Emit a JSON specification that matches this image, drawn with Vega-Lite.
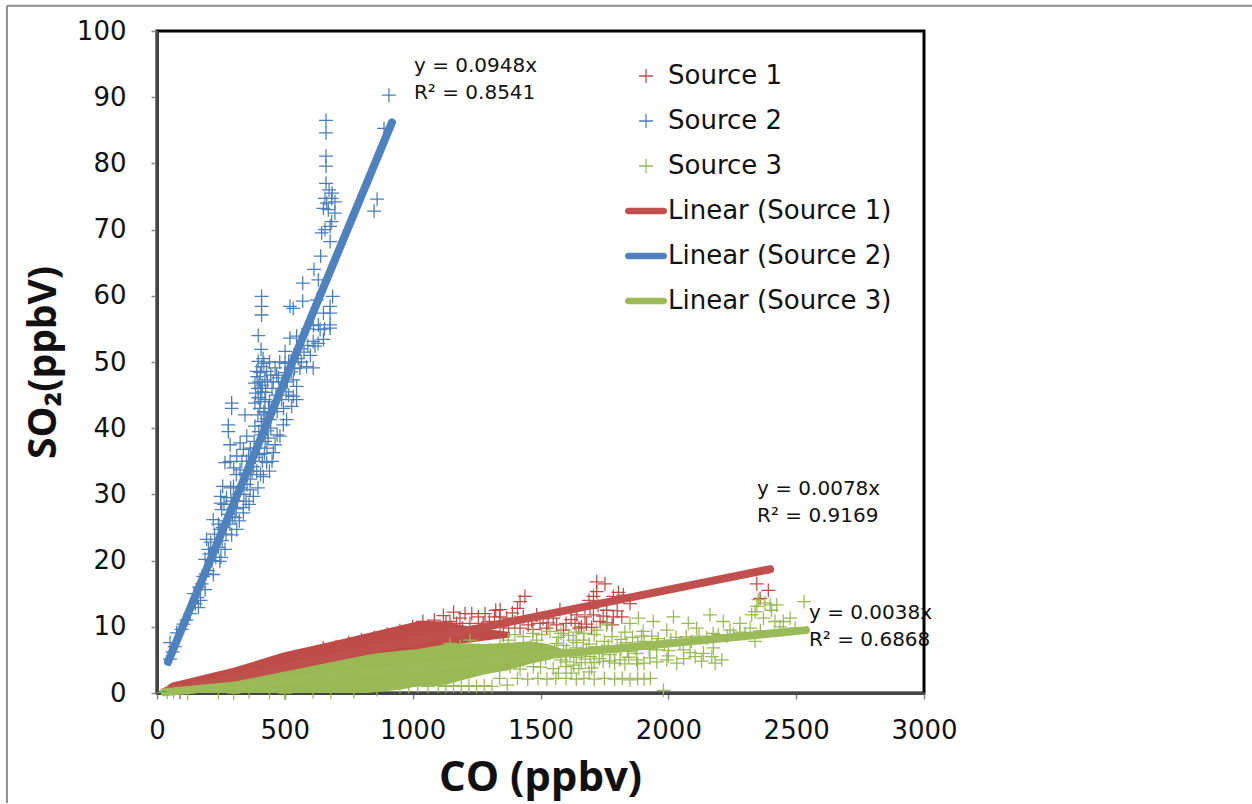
{
"$schema":"https://vega.github.io/schema/vega-lite/v6.json",
"autosize":{"type":"none"},
"padding":{"left":157,"top":31,"right":328,"bottom":111},
"width":767,"height":662,
"background":"white",
"config":{"view":{"stroke":"#000000","strokeWidth":3},"font":"DejaVu Sans"},
"datasets":{
"pts":[
{"s":"Source 2","co":907,"so2":90.3},{"s":"Source 2","co":888,"so2":85.3},{"s":"Source 2","co":661,"so2":86.5},{"s":"Source 2","co":661,"so2":84.6},{"s":"Source 2","co":661,"so2":81.1},{"s":"Source 2","co":661,"so2":79.6},{"s":"Source 2","co":661,"so2":77},{"s":"Source 2","co":673,"so2":76},{"s":"Source 2","co":685,"so2":75.5},{"s":"Source 2","co":861,"so2":74.6},{"s":"Source 2","co":849,"so2":72.8},{"s":"Source 2","co":683,"so2":74.7},{"s":"Source 2","co":696,"so2":74.2},{"s":"Source 2","co":657,"so2":74.7},{"s":"Source 2","co":664,"so2":74},{"s":"Source 2","co":651,"so2":73.2},{"s":"Source 2","co":670,"so2":73},{"s":"Source 2","co":696,"so2":72.5},{"s":"Source 2","co":683,"so2":71.2},{"s":"Source 2","co":677,"so2":70.5},{"s":"Source 2","co":644,"so2":69.5},{"s":"Source 2","co":657,"so2":70},{"s":"Source 2","co":677,"so2":68.2},{"s":"Source 2","co":640,"so2":66},{"s":"Source 2","co":614,"so2":64},{"s":"Source 2","co":631,"so2":62.4},{"s":"Source 2","co":570,"so2":61.9},{"s":"Source 2","co":570,"so2":59.2},{"s":"Source 2","co":520,"so2":58.4},{"s":"Source 2","co":533,"so2":58.1},{"s":"Source 2","co":409,"so2":59.9},{"s":"Source 2","co":409,"so2":58.4},{"s":"Source 2","co":409,"so2":57.1},{"s":"Source 2","co":687,"so2":59.9},{"s":"Source 2","co":677,"so2":58.4},{"s":"Source 2","co":677,"so2":57.4},{"s":"Source 2","co":651,"so2":57.4},{"s":"Source 2","co":625,"so2":59.4},{"s":"Source 2","co":677,"so2":55.6},{"s":"Source 2","co":631,"so2":55.6},
{"s":"Source 2","co":396,"so2":54},{"s":"Source 2","co":611,"so2":53.1},{"s":"Source 2","co":677,"so2":55.1},{"s":"Source 2","co":638,"so2":54.9},{"s":"Source 2","co":520,"so2":53.6},{"s":"Source 2","co":546,"so2":53.9},{"s":"Source 2","co":651,"so2":53.4},{"s":"Source 2","co":618,"so2":52.4},{"s":"Source 2","co":611,"so2":49.1},{"s":"Source 2","co":585,"so2":49.3},{"s":"Source 2","co":501,"so2":51.6},{"s":"Source 2","co":407,"so2":51.9},{"s":"Source 2","co":396,"so2":50.1},{"s":"Source 2","co":390,"so2":48.6},{"s":"Source 2","co":409,"so2":49.3},{"s":"Source 2","co":429,"so2":48.6},{"s":"Source 2","co":383,"so2":46.8},{"s":"Source 2","co":422,"so2":47.3},{"s":"Source 2","co":462,"so2":49.1},{"s":"Source 2","co":475,"so2":47.6},{"s":"Source 2","co":501,"so2":49.8},{"s":"Source 2","co":533,"so2":47.3},{"s":"Source 2","co":546,"so2":46.3},{"s":"Source 2","co":559,"so2":49.1},{"s":"Source 2","co":533,"so2":44.8},{"s":"Source 2","co":527,"so2":43.3},{"s":"Source 2","co":546,"so2":44.3},{"s":"Source 2","co":488,"so2":44.3},{"s":"Source 2","co":422,"so2":44.3},{"s":"Source 2","co":396,"so2":44.6},{"s":"Source 2","co":383,"so2":43.8},{"s":"Source 2","co":292,"so2":43.8},{"s":"Source 2","co":292,"so2":43},{"s":"Source 2","co":344,"so2":42},{"s":"Source 2","co":279,"so2":40.5},{"s":"Source 2","co":279,"so2":39.5},{"s":"Source 2","co":286,"so2":37.5},{"s":"Source 2","co":383,"so2":40.3},{"s":"Source 2","co":422,"so2":42.3},{"s":"Source 2","co":442,"so2":41.3},{"s":"Source 2","co":494,"so2":40.5},{"s":"Source 2","co":507,"so2":41.3},{"s":"Source 2","co":481,"so2":38.8},{"s":"Source 2","co":462,"so2":37.5},{"s":"Source 2","co":325,"so2":37.8},{"s":"Source 2","co":351,"so2":38.8},{"s":"Source 2","co":312,"so2":35.8},{"s":"Source 2","co":286,"so2":35},{"s":"Source 2","co":266,"so2":34.8},{"s":"Source 2","co":338,"so2":36.8},{"s":"Source 2","co":455,"so2":36.3},{"s":"Source 2","co":429,"so2":34.8},{"s":"Source 2","co":416,"so2":32.7},{"s":"Source 2","co":325,"so2":33.7},{"s":"Source 2","co":299,"so2":31.2},{"s":"Source 2","co":257,"so2":31.2},{"s":"Source 2","co":249,"so2":29.7},{"s":"Source 2","co":249,"so2":28.7},{"s":"Source 2","co":253,"so2":27.7},{"s":"Source 2","co":377,"so2":29.7},{"s":"Source 2","co":364,"so2":30.7},{"s":"Source 2","co":338,"so2":28},{"s":"Source 2","co":338,"so2":27.2},{"s":"Source 2","co":220,"so2":26.2},{"s":"Source 2","co":246,"so2":24.7},{"s":"Source 2","co":312,"so2":24.7},{"s":"Source 2","co":292,"so2":23.9},{"s":"Source 2","co":194,"so2":23.2},{"s":"Source 2","co":201,"so2":21.7},{"s":"Source 2","co":266,"so2":21.7},{"s":"Source 2","co":246,"so2":19.9},{"s":"Source 2","co":188,"so2":20.2},{"s":"Source 2","co":220,"so2":17.9},{"s":"Source 2","co":181,"so2":17.6},{"s":"Source 2","co":188,"so2":15.6},{"s":"Source 2","co":162,"so2":12.9},{"s":"Source 2","co":51,"so2":7.6},{"s":"Source 2","co":77,"so2":9.1},{"s":"Source 2","co":96,"so2":9.6},{"s":"Source 2","co":51,"so2":5.1},{"s":"Source 2","co":103,"so2":10.4},
{"s":"Source 2","co":430,"so2":37},{"s":"Source 2","co":400,"so2":36},{"s":"Source 2","co":410,"so2":39},{"s":"Source 2","co":440,"so2":44},{"s":"Source 2","co":410,"so2":45.5},{"s":"Source 2","co":395,"so2":42},{"s":"Source 2","co":370,"so2":35},{"s":"Source 2","co":355,"so2":33},{"s":"Source 2","co":390,"so2":33.5},{"s":"Source 2","co":470,"so2":42.5},{"s":"Source 2","co":465,"so2":45},{"s":"Source 2","co":505,"so2":45.5},{"s":"Source 2","co":515,"so2":50},{"s":"Source 2","co":560,"so2":52},{"s":"Source 2","co":590,"so2":55},{"s":"Source 2","co":540,"so2":51},{"s":"Source 2","co":600,"so2":51},{"s":"Source 2","co":380,"so2":38},{"s":"Source 2","co":365,"so2":37},{"s":"Source 2","co":350,"so2":35},{"s":"Source 2","co":330,"so2":31},{"s":"Source 2","co":315,"so2":29},{"s":"Source 2","co":285,"so2":25.5},{"s":"Source 2","co":270,"so2":24},{"s":"Source 2","co":240,"so2":22},{"s":"Source 2","co":215,"so2":20},{"s":"Source 2","co":170,"so2":14},{"s":"Source 2","co":150,"so2":13.5},{"s":"Source 2","co":415,"so2":50.5},{"s":"Source 2","co":440,"so2":50},{"s":"Source 2","co":400,"so2":47},
{"s":"Source 2","co":405,"so2":46},{"s":"Source 2","co":418,"so2":49.8},{"s":"Source 2","co":392,"so2":47.8},{"s":"Source 2","co":386,"so2":45.3},{"s":"Source 2","co":405,"so2":44},{"s":"Source 2","co":418,"so2":42.5},{"s":"Source 2","co":408,"so2":41},{"s":"Source 2","co":398,"so2":39.5},{"s":"Source 2","co":385,"so2":37},{"s":"Source 2","co":372,"so2":33.5},{"s":"Source 2","co":358,"so2":35.8},{"s":"Source 2","co":345,"so2":33.2},{"s":"Source 2","co":332,"so2":35},{"s":"Source 2","co":310,"so2":33},{"s":"Source 2","co":300,"so2":34},{"s":"Source 2","co":288,"so2":31},{"s":"Source 2","co":272,"so2":29.5},{"s":"Source 2","co":262,"so2":28.5},{"s":"Source 2","co":305,"so2":26.5},{"s":"Source 2","co":322,"so2":26},{"s":"Source 2","co":348,"so2":29},{"s":"Source 2","co":360,"so2":28.5},{"s":"Source 2","co":395,"so2":31},{"s":"Source 2","co":405,"so2":33},{"s":"Source 2","co":440,"so2":33.5},{"s":"Source 2","co":450,"so2":35},{"s":"Source 2","co":435,"so2":38.5},{"s":"Source 2","co":445,"so2":40},{"s":"Source 2","co":470,"so2":39},{"s":"Source 2","co":495,"so2":43},{"s":"Source 2","co":455,"so2":47},{"s":"Source 2","co":445,"so2":48},{"s":"Source 2","co":480,"so2":50},{"s":"Source 2","co":525,"so2":48.5},{"s":"Source 2","co":510,"so2":47},{"s":"Source 2","co":565,"so2":50},{"s":"Source 2","co":575,"so2":51.5},{"s":"Source 2","co":590,"so2":52.5},{"s":"Source 2","co":630,"so2":52.8},{"s":"Source 2","co":655,"so2":55},{"s":"Source 2","co":612,"so2":55.5},{"s":"Source 2","co":240,"so2":25.5},{"s":"Source 2","co":225,"so2":24},{"s":"Source 2","co":210,"so2":22.8},{"s":"Source 2","co":255,"so2":23},{"s":"Source 2","co":230,"so2":20.5},{"s":"Source 2","co":200,"so2":18.5},{"s":"Source 2","co":175,"so2":16.5},{"s":"Source 2","co":130,"so2":12},{"s":"Source 2","co":115,"so2":11},{"s":"Source 2","co":145,"so2":15},{"s":"Source 2","co":70,"so2":7},{"s":"Source 2","co":60,"so2":6.2},
{"s":"Source 2","co":378,"so2":34.2},{"s":"Source 2","co":385,"so2":35.6},{"s":"Source 2","co":412,"so2":35},{"s":"Source 2","co":420,"so2":36.2},{"s":"Source 2","co":423,"so2":38},{"s":"Source 2","co":432,"so2":39.6},{"s":"Source 2","co":415,"so2":40.4},{"s":"Source 2","co":428,"so2":41.4},{"s":"Source 2","co":436,"so2":43},{"s":"Source 2","co":402,"so2":43},{"s":"Source 2","co":412,"so2":46.5},{"s":"Source 2","co":425,"so2":45.4},{"s":"Source 2","co":395,"so2":46},{"s":"Source 2","co":404,"so2":48.4},{"s":"Source 2","co":432,"so2":47},{"s":"Source 2","co":450,"so2":46},{"s":"Source 2","co":468,"so2":48},{"s":"Source 2","co":490,"so2":47},{"s":"Source 2","co":500,"so2":48.4},{"s":"Source 2","co":515,"so2":45},{"s":"Source 2","co":538,"so2":49},{"s":"Source 2","co":552,"so2":50.5},{"s":"Source 2","co":340,"so2":30},{"s":"Source 2","co":352,"so2":31.5},{"s":"Source 2","co":365,"so2":32.3},{"s":"Source 2","co":320,"so2":30},{"s":"Source 2","co":300,"so2":28},{"s":"Source 2","co":290,"so2":29},{"s":"Source 2","co":278,"so2":27},{"s":"Source 2","co":268,"so2":26},{"s":"Source 2","co":258,"so2":25},{"s":"Source 2","co":295,"so2":26.6},{"s":"Source 2","co":310,"so2":27.8},{"s":"Source 2","co":250,"so2":20.5},{"s":"Source 2","co":205,"so2":21},{"s":"Source 2","co":190,"so2":18},{"s":"Source 2","co":165,"so2":16},{"s":"Source 2","co":158,"so2":14.4},
{"s":"Source 1","co":2346,"so2":16.5},{"s":"Source 1","co":2391,"so2":15.5},{"s":"Source 1","co":2359,"so2":14.3},{"s":"Source 1","co":1720,"so2":16.8},{"s":"Source 1","co":1752,"so2":16.5},{"s":"Source 1","co":1720,"so2":15.3},{"s":"Source 1","co":1707,"so2":14.6},{"s":"Source 1","co":1805,"so2":15.2},{"s":"Source 1","co":1824,"so2":14.8},{"s":"Source 1","co":1785,"so2":14.6},{"s":"Source 1","co":1850,"so2":13.5},{"s":"Source 1","co":1439,"so2":14.6},{"s":"Source 1","co":1420,"so2":13.8},{"s":"Source 1","co":1342,"so2":12.6},{"s":"Source 1","co":1205,"so2":12},{"s":"Source 1","co":1231,"so2":12},{"s":"Source 1","co":1283,"so2":12},{"s":"Source 1","co":1185,"so2":11.3},{"s":"Source 1","co":1257,"so2":11.5},{"s":"Source 1","co":1146,"so2":10.8},{"s":"Source 1","co":1172,"so2":10.5},{"s":"Source 1","co":1224,"so2":10.5},{"s":"Source 1","co":1276,"so2":10.5},{"s":"Source 1","co":1368,"so2":11.3},{"s":"Source 1","co":1433,"so2":11.5},{"s":"Source 1","co":1485,"so2":11.8},{"s":"Source 1","co":1576,"so2":12.6},{"s":"Source 1","co":1550,"so2":11.3},{"s":"Source 1","co":1498,"so2":10.5},{"s":"Source 1","co":1563,"so2":10.3},{"s":"Source 1","co":1635,"so2":10.5},{"s":"Source 1","co":1694,"so2":12.8},{"s":"Source 1","co":1707,"so2":11.8},{"s":"Source 1","co":1759,"so2":12.5},{"s":"Source 1","co":1785,"so2":11.5},{"s":"Source 1","co":1818,"so2":11.5},{"s":"Source 1","co":1674,"so2":11.5},{"s":"Source 1","co":1642,"so2":11.8},{"s":"Source 1","co":1733,"so2":10.8},{"s":"Source 1","co":1420,"so2":9.8},{"s":"Source 1","co":1355,"so2":8.8},{"s":"Source 1","co":1342,"so2":10},{"s":"Source 1","co":1302,"so2":9.3},{"s":"Source 1","co":1452,"so2":10.3},{"s":"Source 1","co":1524,"so2":9.8},{"s":"Source 1","co":1130,"so2":10.7},{"s":"Source 1","co":1100,"so2":9.4},{"s":"Source 1","co":1060,"so2":10.1},{"s":"Source 1","co":1000,"so2":10},{"s":"Source 1","co":950,"so2":9.4},{"s":"Source 1","co":900,"so2":8.9},{"s":"Source 1","co":850,"so2":8.4},{"s":"Source 1","co":800,"so2":8},{"s":"Source 1","co":750,"so2":7.6},{"s":"Source 1","co":700,"so2":7},{"s":"Source 1","co":650,"so2":6.8},{"s":"Source 1","co":1390,"so2":12.1},{"s":"Source 1","co":1160,"so2":12.2},{"s":"Source 1","co":1250,"so2":9},{"s":"Source 1","co":1320,"so2":11.5},{"s":"Source 1","co":1600,"so2":10.5},{"s":"Source 1","co":1660,"so2":10},{"s":"Source 1","co":1780,"so2":10.3},{"s":"Source 1","co":90,"so2":0.1},
{"s":"Source 1","co":1195,"so2":9.8},{"s":"Source 1","co":1235,"so2":9.2},{"s":"Source 1","co":1270,"so2":9.8},{"s":"Source 1","co":1300,"so2":10.8},{"s":"Source 1","co":1340,"so2":11.5},{"s":"Source 1","co":1375,"so2":9.8},{"s":"Source 1","co":1400,"so2":10.7},{"s":"Source 1","co":1465,"so2":10.9},{"s":"Source 1","co":1470,"so2":9.6},{"s":"Source 1","co":1510,"so2":11.2},{"s":"Source 1","co":1530,"so2":10.6},{"s":"Source 1","co":1590,"so2":9.5},{"s":"Source 1","co":1620,"so2":11.1},{"s":"Source 1","co":1650,"so2":9.8},{"s":"Source 1","co":1680,"so2":10.4},{"s":"Source 1","co":1700,"so2":9.9},{"s":"Source 1","co":1745,"so2":11.6},{"s":"Source 1","co":1760,"so2":10.6},{"s":"Source 1","co":1800,"so2":12.4},{"s":"Source 1","co":1690,"so2":14},{"s":"Source 1","co":1725,"so2":13.2},{"s":"Source 1","co":1410,"so2":12.8},{"s":"Source 1","co":1325,"so2":12.5},{"s":"Source 1","co":1120,"so2":11.7},{"s":"Source 1","co":1085,"so2":11},{"s":"Source 1","co":1040,"so2":10.8},
{"s":"Source 3","co":2531,"so2":13.8},{"s":"Source 3","co":2352,"so2":14.1},{"s":"Source 3","co":2378,"so2":13.6},{"s":"Source 3","co":2346,"so2":13.1},{"s":"Source 3","co":2398,"so2":13.3},{"s":"Source 3","co":2424,"so2":13.3},{"s":"Source 3","co":2339,"so2":12.3},{"s":"Source 3","co":2326,"so2":11.8},{"s":"Source 3","co":2372,"so2":11.3},{"s":"Source 3","co":2404,"so2":12.5},{"s":"Source 3","co":2450,"so2":10.8},{"s":"Source 3","co":2476,"so2":11.3},{"s":"Source 3","co":2417,"so2":10.8},{"s":"Source 3","co":2496,"so2":9.8},{"s":"Source 3","co":2437,"so2":10},{"s":"Source 3","co":2320,"so2":9.8},{"s":"Source 3","co":2280,"so2":10.5},{"s":"Source 3","co":2215,"so2":10.8},{"s":"Source 3","co":2163,"so2":11.8},{"s":"Source 3","co":2020,"so2":11.5},{"s":"Source 3","co":2078,"so2":10.5},{"s":"Source 3","co":1941,"so2":10.8},{"s":"Source 3","co":1883,"so2":11.3},{"s":"Source 3","co":1850,"so2":10.5},{"s":"Source 3","co":1759,"so2":10.3},{"s":"Source 3","co":1720,"so2":9.5},{"s":"Source 3","co":1994,"so2":9.5},{"s":"Source 3","co":1902,"so2":9.3},{"s":"Source 3","co":2111,"so2":9.8},{"s":"Source 3","co":2241,"so2":9.5},{"s":"Source 3","co":2339,"so2":7.8},{"s":"Source 3","co":2176,"so2":6.8},{"s":"Source 3","co":2170,"so2":5.5},{"s":"Source 3","co":2209,"so2":5},{"s":"Source 3","co":2183,"so2":4.5},{"s":"Source 3","co":2137,"so2":6},{"s":"Source 3","co":2105,"so2":5.5},{"s":"Source 3","co":2033,"so2":4.5},{"s":"Source 3","co":1994,"so2":5},{"s":"Source 3","co":2059,"so2":6.5},{"s":"Source 3","co":1954,"so2":6.5},{"s":"Source 3","co":1876,"so2":6},{"s":"Source 3","co":1772,"so2":5.8},{"s":"Source 3","co":1694,"so2":5.5},{"s":"Source 3","co":1811,"so2":5},{"s":"Source 3","co":1876,"so2":5},{"s":"Source 3","co":1928,"so2":5.3},{"s":"Source 3","co":1602,"so2":6.5},{"s":"Source 3","co":1537,"so2":6},{"s":"Source 3","co":1433,"so2":5},{"s":"Source 3","co":1381,"so2":4},{"s":"Source 3","co":1276,"so2":4},{"s":"Source 3","co":1472,"so2":4},{"s":"Source 3","co":1563,"so2":7.5},{"s":"Source 3","co":1628,"so2":8},{"s":"Source 3","co":1668,"so2":8},{"s":"Source 3","co":1720,"so2":7},{"s":"Source 3","co":1642,"so2":6.8},{"s":"Source 3","co":1485,"so2":8},{"s":"Source 3","co":1433,"so2":8.5},{"s":"Source 3","co":1374,"so2":8},{"s":"Source 3","co":1342,"so2":7.2},{"s":"Source 3","co":1302,"so2":6.5},{"s":"Source 3","co":1224,"so2":8},{"s":"Source 3","co":1185,"so2":7},{"s":"Source 3","co":1146,"so2":7.5},{"s":"Source 3","co":1537,"so2":9.3},{"s":"Source 3","co":1505,"so2":8.8},
{"s":"Source 3","co":1981,"so2":0.4},{"s":"Source 3","co":1930,"so2":2.2},{"s":"Source 3","co":1905,"so2":2.1},{"s":"Source 3","co":1880,"so2":2.2},{"s":"Source 3","co":1850,"so2":2},{"s":"Source 3","co":1820,"so2":2.2},{"s":"Source 3","co":1790,"so2":2.1},{"s":"Source 3","co":1750,"so2":2.2},{"s":"Source 3","co":1710,"so2":2.1},{"s":"Source 3","co":1670,"so2":2.2},{"s":"Source 3","co":1640,"so2":2.1},{"s":"Source 3","co":1600,"so2":2.2},{"s":"Source 3","co":1560,"so2":2.2},{"s":"Source 3","co":1525,"so2":2.1},{"s":"Source 3","co":1490,"so2":2.2},{"s":"Source 3","co":1450,"so2":2.1},{"s":"Source 3","co":1410,"so2":2.2},{"s":"Source 3","co":1370,"so2":1.2},{"s":"Source 3","co":1340,"so2":2.2},{"s":"Source 3","co":1310,"so2":1},{"s":"Source 3","co":1280,"so2":1.1},{"s":"Source 3","co":1250,"so2":1},{"s":"Source 3","co":1220,"so2":1.1},{"s":"Source 3","co":1190,"so2":1},{"s":"Source 3","co":1160,"so2":1.1},{"s":"Source 3","co":1130,"so2":1},{"s":"Source 3","co":1100,"so2":1.1},{"s":"Source 3","co":1060,"so2":1},{"s":"Source 3","co":1020,"so2":1.1},{"s":"Source 3","co":985,"so2":1},{"s":"Source 3","co":950,"so2":1},
{"s":"Source 3","co":1700,"so2":3.8},{"s":"Source 3","co":1650,"so2":3.7},{"s":"Source 3","co":1600,"so2":4},{"s":"Source 3","co":1550,"so2":3.7},{"s":"Source 3","co":1500,"so2":3.9},{"s":"Source 3","co":1420,"so2":3.6},{"s":"Source 3","co":1340,"so2":3.4},{"s":"Source 3","co":1580,"so2":5},{"s":"Source 3","co":1640,"so2":5.4},{"s":"Source 3","co":1745,"so2":4.8},{"s":"Source 3","co":1520,"so2":5.3},{"s":"Source 3","co":1480,"so2":6.5},{"s":"Source 3","co":1400,"so2":6.2},{"s":"Source 3","co":1710,"so2":8.8},{"s":"Source 3","co":1780,"so2":8.5},{"s":"Source 3","co":1830,"so2":9.2},{"s":"Source 3","co":1960,"so2":8.2},{"s":"Source 3","co":2030,"so2":8.4},{"s":"Source 3","co":1800,"so2":7},{"s":"Source 3","co":1880,"so2":7.3},
{"s":"Source 3","co":1555,"so2":6.4},{"s":"Source 3","co":1590,"so2":7.2},{"s":"Source 3","co":1615,"so2":5.8},{"s":"Source 3","co":1660,"so2":6.1},{"s":"Source 3","co":1690,"so2":7.4},{"s":"Source 3","co":1750,"so2":7.8},{"s":"Source 3","co":1740,"so2":6.4},{"s":"Source 3","co":1790,"so2":6.2},{"s":"Source 3","co":1835,"so2":7.6},{"s":"Source 3","co":1840,"so2":6.3},{"s":"Source 3","co":1860,"so2":8.4},{"s":"Source 3","co":1905,"so2":7.8},{"s":"Source 3","co":1925,"so2":6.6},{"s":"Source 3","co":1935,"so2":8.6},{"s":"Source 3","co":1985,"so2":7.4},{"s":"Source 3","co":2000,"so2":6.4},{"s":"Source 3","co":2045,"so2":7.5},{"s":"Source 3","co":2090,"so2":7.8},{"s":"Source 3","co":2150,"so2":8.3},{"s":"Source 3","co":2195,"so2":8.8},{"s":"Source 3","co":2255,"so2":8.9},{"s":"Source 3","co":2300,"so2":9},{"s":"Source 3","co":2360,"so2":9.4},{"s":"Source 3","co":2060,"so2":5.2},{"s":"Source 3","co":2130,"so2":4.8},{"s":"Source 3","co":1955,"so2":4.7},{"s":"Source 3","co":1905,"so2":4.5},{"s":"Source 3","co":1845,"so2":5.4},{"s":"Source 3","co":1790,"so2":4.5},{"s":"Source 3","co":1730,"so2":5.2},{"s":"Source 3","co":1660,"so2":4.6},{"s":"Source 3","co":1620,"so2":3},{"s":"Source 3","co":1570,"so2":3},{"s":"Source 3","co":1690,"so2":3.2},{"s":"Source 3","co":1580,"so2":9},{"s":"Source 3","co":1640,"so2":9.2},{"s":"Source 3","co":1470,"so2":9},{"s":"Source 3","co":1400,"so2":8.8},
{"s":"Source 3","co":1600,"so2":6.1},{"s":"Source 3","co":1640,"so2":7.6},{"s":"Source 3","co":1680,"so2":6.6},{"s":"Source 3","co":1710,"so2":6},{"s":"Source 3","co":1765,"so2":7.1},{"s":"Source 3","co":1815,"so2":6.6},{"s":"Source 3","co":1815,"so2":8.1},{"s":"Source 3","co":1870,"so2":6.8},{"s":"Source 3","co":1895,"so2":8.6},{"s":"Source 3","co":1955,"so2":7.3},{"s":"Source 3","co":2010,"so2":8},{"s":"Source 3","co":2070,"so2":8.5},{"s":"Source 3","co":2120,"so2":8.6},{"s":"Source 3","co":2175,"so2":9},{"s":"Source 3","co":2230,"so2":8.6},{"s":"Source 3","co":2280,"so2":9.2},{"s":"Source 3","co":1570,"so2":8.4},{"s":"Source 3","co":1610,"so2":8.7},{"s":"Source 3","co":1670,"so2":9},{"s":"Source 3","co":1600,"so2":4.7},{"s":"Source 3","co":1630,"so2":4.2},{"s":"Source 3","co":1675,"so2":5.1},{"s":"Source 3","co":1710,"so2":4.6},{"s":"Source 3","co":1770,"so2":4.8},{"s":"Source 3","co":1830,"so2":4.4},{"s":"Source 3","co":1880,"so2":4.4},{"s":"Source 3","co":2000,"so2":5.6},{"s":"Source 3","co":2085,"so2":6.1},
{"s":"Source 3","co":40,"so2":0.1},{"s":"Source 3","co":65,"so2":0.2},{"s":"Source 3","co":120,"so2":0},{"s":"Source 3","co":240,"so2":0.1},{"s":"Source 3","co":300,"so2":0},{"s":"Source 3","co":360,"so2":0.2},{"s":"Source 3","co":440,"so2":0.1},{"s":"Source 3","co":500,"so2":0},{"s":"Source 3","co":610,"so2":0.2},{"s":"Source 3","co":680,"so2":0.1},{"s":"Source 3","co":770,"so2":0.2},{"s":"Source 3","co":860,"so2":0.5}
],
"cores":[
{"s":"Source 1","co":0,"lo":0,"hi":0},{"s":"Source 1","co":57,"lo":0.5,"hi":1.55},{"s":"Source 1","co":299,"lo":1.5,"hi":3.8},{"s":"Source 1","co":494,"lo":3.5,"hi":6.1},{"s":"Source 1","co":690,"lo":4.5,"hi":7.8},{"s":"Source 1","co":885,"lo":5.5,"hi":9.6},{"s":"Source 1","co":1029,"lo":6,"hi":10.9},{"s":"Source 1","co":1120,"lo":7,"hi":10.8},{"s":"Source 1","co":1200,"lo":7.5,"hi":10.2},{"s":"Source 1","co":1300,"lo":8,"hi":9.6},{"s":"Source 1","co":1380,"lo":8.4,"hi":9.2},
{"s":"Source 3","co":0,"lo":0,"hi":0},{"s":"Source 3","co":40,"lo":0,"hi":0.8},{"s":"Source 3","co":299,"lo":0,"hi":2.05},{"s":"Source 3","co":494,"lo":0,"hi":4.1},{"s":"Source 3","co":690,"lo":0,"hi":5.1},{"s":"Source 3","co":820,"lo":0,"hi":5.8},{"s":"Source 3","co":950,"lo":0.5,"hi":6.4},{"s":"Source 3","co":1016,"lo":1,"hi":6.6},{"s":"Source 3","co":1133,"lo":1.3,"hi":7.4},{"s":"Source 3","co":1200,"lo":2,"hi":7.5},{"s":"Source 3","co":1280,"lo":2.8,"hi":7.4},{"s":"Source 3","co":1380,"lo":3.5,"hi":7.6},{"s":"Source 3","co":1460,"lo":4.4,"hi":7.8},{"s":"Source 3","co":1530,"lo":5,"hi":7.4},{"s":"Source 3","co":1590,"lo":5.8,"hi":6.6}
],
"trends":[
{"s":"Linear (Source 1)","co":30,"so2":0.2},{"s":"Linear (Source 1)","co":2398,"so2":18.7},
{"s":"Linear (Source 2)","co":43,"so2":4.7},{"s":"Linear (Source 2)","co":919,"so2":86.2},
{"s":"Linear (Source 3)","co":30,"so2":0.1},{"s":"Linear (Source 3)","co":2538,"so2":9.5}
],
"notes":[
{"t":"y = 0.0948x","co":1005,"so2":94.7},{"t":"R² = 0.8541","co":1005,"so2":90.6},
{"t":"y = 0.0078x","co":2347,"so2":30.8},{"t":"R² = 0.9169","co":2347,"so2":26.7},
{"t":"y = 0.0038x","co":2550,"so2":12.1},{"t":"R² = 0.6868","co":2550,"so2":8}
],
"frame":[
{"co":-587,"co2":4283,"so2":103.8,"so2b":103.8},
{"co":-587,"co2":-587,"so2":103.8,"so2b":-16.6}
]
},
"encoding":{
"x":{"field":"co","type":"quantitative","scale":{"domain":[0,3000],"nice":false},
"axis":{"values":[0,500,1000,1500,2000,2500,3000],"format":"d","grid":false,"title":"CO (ppbv)","titleFont":"Open Sans","titleFontWeight":"bold","titleFontSize":42,"titleColor":"#111111","titleX":383,"titleY":97,"titleBaseline":"alphabetic","labelFont":"DejaVu Sans","labelFontSize":26,"labelColor":"#111111","labelPadding":18,"labelFlush":false,"domainColor":"#444444","domainWidth":3,"tickColor":"#868686","tickWidth":1.5,"tickSize":6}},
"y":{"field":"so2","type":"quantitative","scale":{"domain":[0,100],"nice":false},
"axis":{"values":[0,10,20,30,40,50,60,70,80,90,100],"format":"d","grid":false,"title":"SO₂(ppbV)","titleFont":"Open Sans","titleFontWeight":"bold","titleFontSize":39,"titleColor":"#111111","titleX":-102,"titleY":331,"titleBaseline":"alphabetic","labelFont":"DejaVu Sans","labelFontSize":26,"labelColor":"#111111","labelPadding":25,"domainColor":"#444444","domainWidth":3,"tickColor":"#868686","tickWidth":1.5,"tickSize":6}}
},
"layer":[
{"data":{"name":"pts"},"transform":[{"filter":"datum.s!=='Source 3'"}],"mark":{"type":"point","filled":true,"size":1764,"opacity":1,"strokeWidth":0},
"encoding":{
"color":{"field":"s","type":"nominal","title":null,"scale":{"domain":["Source 1","Source 2","Source 3","Linear (Source 1)","Linear (Source 2)","Linear (Source 3)"],"range":["#BE4B48","#4A7EBB","#98B954","#C0504D","#4F81BD","#9BBB59"]},
"legend":{"orient":"none","legendX":468,"legendY":24,"padding":0,"rowPadding":11,"symbolSize":1764,"symbolStrokeWidth":0,"symbolOpacity":1,"labelFont":"DejaVu Sans","labelFontSize":26,"labelColor":"#111111","labelOffset":1,"labelLimit":400}},
"shape":{"field":"s","type":"nominal","title":null,"scale":{"domain":["Source 1","Source 2","Source 3","Linear (Source 1)","Linear (Source 2)","Linear (Source 3)"],"range":["M-0.33,-0.03H0.33V0.03H-0.33ZM-0.03,-0.33H0.03V0.33H-0.03Z","M-0.33,-0.03H0.33V0.03H-0.33ZM-0.03,-0.33H0.03V0.33H-0.03Z","M-0.33,-0.03H0.33V0.03H-0.33ZM-0.03,-0.33H0.03V0.33H-0.03Z","M-0.85,-0.155H0.85A0.155,0.155 0 0 1 0.85,0.155H-0.85A0.155,0.155 0 0 1 -0.85,-0.155Z","M-0.85,-0.155H0.85A0.155,0.155 0 0 1 0.85,0.155H-0.85A0.155,0.155 0 0 1 -0.85,-0.155Z","M-0.85,-0.155H0.85A0.155,0.155 0 0 1 0.85,0.155H-0.85A0.155,0.155 0 0 1 -0.85,-0.155Z"]}}
}},
{"data":{"name":"cores"},"transform":[{"filter":"datum.s==='Source 1'"}],"mark":{"type":"area"},
"encoding":{"y":{"field":"lo","type":"quantitative"},"y2":{"field":"hi"},"color":{"field":"s","type":"nominal"}}},
{"data":{"name":"cores"},"transform":[{"filter":"datum.s==='Source 3'"}],"mark":{"type":"area"},
"encoding":{"y":{"field":"lo","type":"quantitative"},"y2":{"field":"hi"},"color":{"field":"s","type":"nominal"}}},
{"data":{"name":"pts"},"transform":[{"filter":"datum.s==='Source 3'"}],"mark":{"type":"point","filled":true,"size":1764,"opacity":1,"strokeWidth":0},
"encoding":{"color":{"field":"s","type":"nominal"},"shape":{"field":"s","type":"nominal"}}},
{"data":{"name":"trends"},"mark":{"type":"line","strokeWidth":8,"strokeCap":"round"},
"encoding":{"color":{"field":"s","type":"nominal"},"shape":{"field":"s","type":"nominal"}}},
{"data":{"name":"notes"},"mark":{"type":"text","align":"left","baseline":"middle","font":"DejaVu Sans","fontSize":20,"color":"#111111"},
"encoding":{"text":{"field":"t","type":"nominal"}}},
{"data":{"name":"frame"},"mark":{"type":"rule","color":"#8c8c8c","strokeWidth":2,"clip":false},
"encoding":{"x2":{"field":"co2"},"y2":{"field":"so2b"}}}
]
}
